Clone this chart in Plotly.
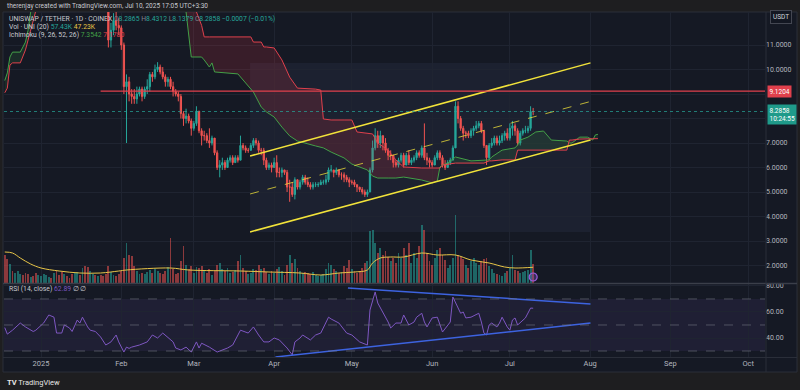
import plotly.graph_objects as go
import pandas as pd

# ---------------- DATA ----------------
first_open = 16.3
dec_close = [14.4, 13.3, 13.7, 13.2, 13.4, 13.9, 14.3, 14.0, 13.2, 13.1, 13.4, 13.0, 12.9, 13.3]
dec_high = [16.5, 14.6, 14.0, 13.9, 13.6, 14.1, 14.6, 14.5, 14.1, 13.5, 13.6, 13.5, 13.3, 13.5]
dec_low = [14.0, 12.9, 12.6, 13.0, 12.9, 13.3, 13.8, 13.8, 13.0, 12.8, 13.0, 12.9, 12.7, 12.8]

jan_close = [13.6, 14.0, 14.5, 14.7, 14.3, 14.9, 13.9, 13.5, 13.0, 13.4, 13.3, 13.1, 12.9, 13.5, 14.0, 13.8,
             14.6, 13.7, 13.0, 13.5, 13.6, 13.2, 13.4, 13.0, 12.8, 12.5, 11.2, 11.6, 12.0, 11.8, 11.7]
jan_high = [13.8, 14.2, 14.7, 14.9, 14.8, 15.2, 15.0, 14.0, 13.6, 13.6, 13.6, 13.4, 13.2, 13.7, 14.2, 14.2,
            14.9, 14.7, 13.9, 14.0, 13.9, 13.8, 13.6, 13.5, 13.2, 13.0, 12.6, 11.9, 12.3, 12.4, 12.1]
jan_low = [13.2, 13.5, 13.9, 14.3, 14.1, 14.2, 13.7, 13.2, 12.8, 12.9, 13.1, 12.9, 12.5, 12.8, 13.4, 13.6,
           13.7, 13.5, 12.6, 12.8, 13.3, 13.0, 13.0, 12.8, 12.6, 12.4, 10.9, 10.9, 11.4, 11.6, 11.4]

feb_close = [11.0, 9.3, 9.5, 9.0, 8.9, 8.8, 9.0, 9.2, 8.9, 9.2, 9.3, 9.8, 9.7, 10.0, 10.1, 9.9, 9.7, 9.5,
             9.6, 9.3, 9.1, 9.0, 8.9, 8.2, 8.0, 8.1, 7.9, 7.6]
feb_high = [11.8, 11.1, 9.8, 9.7, 9.2, 9.2, 9.3, 9.3, 9.3, 9.3, 9.6, 9.9, 9.9, 10.2, 10.3, 10.2, 10.1, 9.8,
            9.7, 9.7, 9.5, 9.2, 9.1, 9.0, 8.3, 8.4, 8.2, 8.0]
feb_low = [10.8, 9.0, 7.0, 8.7, 8.6, 8.6, 8.6, 8.9, 8.7, 8.8, 9.0, 9.1, 9.5, 9.6, 9.9, 9.8, 9.6, 9.3,
           9.3, 9.2, 8.9, 8.9, 8.7, 8.0, 7.7, 7.8, 7.8, 7.3]

mar_close = [7.8, 8.3, 7.5, 7.3, 7.3, 7.1, 7.0, 7.2, 6.6, 6.0, 6.1, 6.2, 6.0, 6.3, 6.4, 6.2, 6.4, 6.3,
             6.9, 6.8, 6.7, 6.7, 6.9, 7.1, 7.0, 6.7, 6.7, 6.3, 6.0, 6.1, 6.0]
mar_high = [7.9, 8.5, 8.3, 7.6, 7.5, 7.4, 7.6, 7.3, 7.2, 6.7, 6.3, 6.4, 6.3, 6.4, 6.5, 6.5, 6.5, 6.5,
            7.3, 7.0, 6.9, 6.8, 7.0, 7.2, 7.2, 7.1, 6.8, 6.8, 6.4, 6.2, 6.2]
mar_low = [7.5, 7.7, 7.4, 6.9, 7.1, 7.0, 6.8, 6.9, 6.5, 5.9, 5.6, 5.9, 5.9, 6.0, 6.2, 6.1, 6.2, 6.2,
           6.3, 6.7, 6.6, 6.6, 6.7, 6.8, 6.9, 6.6, 6.5, 6.1, 5.9, 5.9, 5.8]

apr_close = [6.2, 5.8, 5.8, 5.9, 5.8, 5.2, 5.2, 4.9, 5.5, 5.2, 5.4, 5.6, 5.4, 5.3, 5.2, 5.3, 5.3, 5.3,
             5.4, 5.4, 5.5, 5.9, 5.9, 5.8, 5.9, 5.7, 5.7, 5.6, 5.5, 5.4]
apr_high = [6.4, 6.5, 6.0, 6.0, 5.9, 5.9, 5.5, 5.4, 5.6, 5.5, 5.5, 5.7, 5.7, 5.6, 5.4, 5.4, 5.4, 5.4,
            5.5, 5.5, 5.7, 6.0, 6.1, 5.9, 6.0, 5.9, 5.8, 5.8, 5.7, 5.6]
apr_low = [6.0, 5.6, 5.6, 5.6, 5.7, 5.0, 4.6, 4.8, 4.7, 5.1, 5.1, 5.3, 5.3, 5.2, 5.1, 5.1, 5.2, 5.2,
           5.3, 5.3, 5.3, 5.4, 5.8, 5.6, 5.7, 5.6, 5.5, 5.4, 5.4, 5.2]

may_close = [5.4, 5.3, 5.2, 5.1, 5.0, 4.9, 5.0, 5.9, 6.8, 7.3, 7.0, 7.3, 7.0, 6.7, 6.5, 6.5, 6.2, 6.1,
             6.3, 6.5, 6.1, 6.5, 6.2, 6.3, 6.4, 6.6, 6.5, 6.8, 6.4, 6.3, 6.2]
may_high = [5.5, 5.5, 5.3, 5.2, 5.2, 5.1, 5.1, 6.0, 7.1, 7.6, 7.5, 7.5, 7.3, 7.2, 6.8, 6.7, 6.5, 6.3,
            6.4, 6.6, 6.6, 6.6, 6.7, 6.4, 6.5, 6.7, 6.7, 6.9, 7.8, 6.6, 6.4]
may_low = [5.3, 5.2, 5.0, 5.0, 4.9, 4.8, 4.8, 5.0, 5.8, 6.7, 6.8, 6.8, 6.7, 6.6, 6.3, 6.3, 6.0, 6.0,
           6.0, 6.2, 6.0, 6.1, 6.1, 6.1, 6.2, 6.3, 6.4, 6.4, 6.3, 6.1, 6.0]

jun_close = [6.1, 6.4, 6.6, 6.4, 6.1, 6.0, 6.2, 6.3, 6.8, 8.5, 8.0, 7.6, 7.4, 7.4, 7.3, 7.5, 7.6, 7.7,
             7.8, 7.5, 6.9, 6.4, 6.9, 7.0, 7.2, 7.0, 7.1, 7.3, 7.4, 7.2]
jun_high = [6.3, 6.5, 6.7, 6.7, 6.5, 6.3, 6.3, 6.4, 6.9, 8.7, 8.7, 8.1, 7.7, 7.5, 7.5, 7.6, 7.7, 7.9,
            7.9, 7.9, 7.5, 6.9, 7.0, 7.2, 7.3, 7.3, 7.3, 7.4, 7.5, 7.6]
jun_low = [6.0, 6.1, 6.3, 6.3, 6.0, 5.9, 6.0, 6.1, 6.3, 6.8, 7.8, 7.5, 7.1, 7.2, 7.2, 7.2, 7.3, 7.5,
           7.6, 7.4, 6.8, 6.1, 6.3, 6.8, 6.9, 6.9, 6.9, 7.0, 7.1, 7.1]

jul_close = [7.6, 7.7, 7.5, 7.0, 7.4, 7.5, 7.5, 7.6, 8.2865, 8.2858]
jul_high = [7.8, 7.9, 7.8, 7.6, 7.5, 7.6, 7.7, 7.7, 8.5, 8.4312]
jul_low = [7.1, 7.3, 7.3, 6.9, 6.9, 7.3, 7.4, 7.4, 7.5, 8.1379]

# volume in thousands (UNI)
dec_vol = [84, 72, 57, 36, 30, 36, 27, 24, 30, 27, 18, 21, 30, 24]
jan_vol = [21, 27, 24, 18, 15, 30, 36, 24, 33, 27, 21, 15, 27, 30, 33, 24, 45, 51, 48, 36, 27, 24, 21,
           24, 21, 27, 51, 33, 24, 21, 27]
feb_vol = [36, 75, 120, 84, 81, 51, 36, 27, 30, 27, 33, 39, 30, 42, 36, 30, 27, 36, 48, 135, 42, 27, 30,
           66, 111, 54, 42, 51]
mar_vol = [30, 48, 45, 51, 36, 30, 42, 24, 36, 54, 60, 42, 36, 45, 30, 33, 39, 66, 84, 45, 36, 27, 30,
           42, 39, 54, 42, 45, 33, 27, 36]
apr_vol = [30, 42, 48, 36, 24, 54, 84, 60, 72, 45, 36, 30, 33, 30, 27, 33, 24, 21, 24, 27, 42, 60, 54,
           42, 36, 30, 33, 51, 45, 69]
may_vol = [42, 36, 30, 36, 45, 60, 66, 156, 159, 120, 90, 105, 84, 96, 78, 66, 75, 60, 90, 75, 105, 84,
           120, 60, 90, 75, 111, 174, 159, 90, 66]
jun_vol = [54, 75, 99, 105, 84, 69, 45, 54, 75, 204, 84, 78, 72, 54, 45, 66, 75, 60, 54, 66, 72, 75, 51,
           42, 30, 27, 24, 21, 30, 36]
jul_vol = [45, 84, 39, 36, 30, 33, 36, 39, 99, 57]

# volume MA(20), read at day offsets from 2025-01-01
vma_days = [-14, -11, -8, -4, 0, 7, 15, 23, 30, 33, 50, 57, 77, 88, 100, 108, 115, 121, 126, 128, 131,
            135, 140, 147, 153, 160, 166, 173, 179, 183, 190]
vma_vals = [93, 90, 75, 57, 45, 36, 30, 30, 36, 39, 45, 39, 36, 33, 30, 24, 30, 33, 39, 60, 75,
            78, 78, 90, 84, 84, 69, 60, 48, 45, 47.23]

# Ichimoku leading spans (day offsets from 2025-01-01)
cloud_days = [-14, -13, -12, -11, -8, -6, -5, -4, -2, -1, 10, 30, 50, 56, 58, 60, 62, 63, 65, 66, 67, 76,
              78, 81, 82, 85, 86, 87, 90, 93, 96, 99, 106, 108, 109, 112, 117, 120, 122, 126, 128, 130,
              134, 137, 140, 147, 151, 153, 154, 155, 157, 160, 166, 171, 173, 174, 178, 183, 184, 185,
              188, 191, 194, 197, 203, 204, 205, 208, 211, 213, 214, 215]
span_a = [9.55, 9.86, 10.51, 10.71, 10.71, 11.12, 11.6, 12.35, 13.0, 13.5, 14.5, 15.0, 13.5, 12.35,
          10.51, 10.51, 10.51, 10.39, 10.1, 10.27, 9.9, 9.82, 9.57, 9.16, 9.08, 8.47, 8.35, 8.27, 8.06,
          7.65, 7.29, 7.08, 6.88, 6.84, 6.8, 6.63, 6.39, 6.14, 6.06, 5.9, 5.65, 5.57, 5.57, 5.57, 5.61,
          5.49, 5.37, 5.45, 6.02, 6.1, 6.18, 6.43, 6.27, 6.31, 6.31, 6.43, 6.71, 6.8, 6.92, 7.12, 7.24,
          7.45, 7.49, 7.12, 7.08, 7.0, 7.0, 7.24, 7.24, 7.12, 7.33, 7.3542]
span_b = [9.05, 9.24, 10.18, 10.27, 10.27, 10.8, 11.2, 11.6, 12.4, 13.0, 13.5, 15.5, 15.0, 13.5,
          12.9, 12.35, 11.8, 11.33, 11.33, 11.33, 11.33, 11.33, 11.33, 11.33, 11.12, 11.12, 10.92, 10.92,
          10.88, 10.39, 9.69, 9.24, 9.2, 9.16, 7.98, 7.94, 7.94, 7.94, 7.45, 7.41, 7.37, 7.0, 6.71, 6.31,
          6.02, 5.98, 5.98, 5.98, 5.98, 6.1, 6.14, 6.18, 6.18, 6.18, 6.27, 6.27, 6.31, 6.31, 6.71, 6.71,
          6.71, 6.71, 6.71, 6.71, 6.71, 7.12, 7.12, 7.16, 7.16, 7.16, 7.16, 7.178]

# RSI(14) read at day offsets from 2025-01-01
rsi_days = [-14, -13, -11, -8, -6, -4, -3, -2, 1, 3, 5, 6, 8, 9, 11, 12, 14, 15, 16, 18, 19, 21, 23, 25,
            27, 29, 30, 32, 33, 34, 35, 38, 41, 43, 45, 47, 49, 51, 52, 54, 56, 58, 60, 61, 62, 65, 68,
            70, 72, 74, 77, 80, 82, 84, 86, 88, 90, 92, 95, 97, 98, 100, 101, 104, 106, 108, 111, 112,
            115, 118, 120, 123, 126, 127, 129, 130, 132, 134, 135, 137, 139, 140, 142, 144, 145, 147,
            148, 149, 151, 153, 155, 157, 158, 159, 160, 162, 163, 164, 166, 169, 170, 171, 172, 173,
            174, 176, 177, 178, 180, 181, 182, 183, 184, 186, 187, 189, 190]
rsi_vals = [48, 43, 46, 51.5, 48.5, 46, 45, 46, 51.5, 57.7, 56, 43.8, 43.8, 50, 47.7, 45, 53.8, 51.5,
            56, 48.5, 46, 45, 40.8, 34.6, 37, 42.3, 37, 29.2, 33, 32, 33, 34.6, 37, 42.3, 40, 43.8, 40,
            37, 32.3, 30.8, 33, 29.2, 37, 32.3, 36, 33, 29.2, 30.8, 32.3, 34.6, 46, 43.8, 48.5, 42.3,
            37, 37, 40, 38.5, 32.3, 27, 37, 40, 42.3, 38.5, 42.3, 43.8, 56, 54.6, 51.5, 43.8, 42.3, 37,
            34.6, 61.5, 75.4, 66.9, 60, 52.3, 47.7, 51.5, 51.5, 57.7, 50, 52.3, 56, 59, 52.3, 48.5,
            55.4, 56, 44.6, 50, 52.3, 71.5, 66.9, 59, 60, 55.4, 56, 59, 52.3, 43.8, 42.3, 50, 51.5,
            48.5, 51.5, 56, 48.5, 46, 53.8, 55.4, 50, 53.8, 55.4, 63, 62.89]

# drawings (data units)
channel_dates = ["2025-03-22 17:00", "2025-08-01 03:00"]
channel_upper = [6.47, 10.27]
channel_lower = [3.37, 7.12]
rsi_upper_dates = ["2025-04-29 12:00", "2025-08-01 03:00"]
rsi_upper_vals = [78.5, 66.2]
rsi_lower_dates = ["2025-04-01 12:00", "2025-08-01 03:00"]
rsi_lower_vals = [25.4, 51.5]
hline_level = 9.1204
hline_start = "2025-01-24"
last_price = 8.2858

month_ticks = ["2025-01-01", "2025-02-01", "2025-03-01", "2025-04-01", "2025-05-01", "2025-06-01",
               "2025-07-01", "2025-08-01", "2025-09-01", "2025-10-01"]
month_labels = ["2025", "Feb", "Mar", "Apr", "May", "Jun", "Jul", "Aug", "Sep", "Oct"]
price_ticks = [2, 3, 4, 5, 6, 7, 8, 9, 10, 11]
rsi_ticks = [40, 60, 80]

# ---------------- BUILD ----------------
close = dec_close + jan_close + feb_close + mar_close + apr_close + may_close + jun_close + jul_close
high = dec_high + jan_high + feb_high + mar_high + apr_high + may_high + jun_high + jul_high
low = dec_low + jan_low + feb_low + mar_low + apr_low + may_low + jun_low + jul_low
vol = dec_vol + jan_vol + feb_vol + mar_vol + apr_vol + may_vol + jun_vol + jul_vol
assert len(close) == len(high) == len(low) == len(vol) == 205, (len(close), len(high), len(low), len(vol))
opn = [first_open] + close[:-1]
dates = pd.date_range("2024-12-18", periods=len(close), freq="D")
base = pd.Timestamp("2025-01-01")
to_dt = lambda days: [base + pd.Timedelta(days=d) for d in days]

UP, DN = "#26a69a", "#ef5350"
BG = "#151924"
FONT = "Roboto, Arial, sans-serif"
TXT = "#b2b5be"

W, H = 800, 390
ML, MR, MT, MB = 4, 35, 12, 33
PW, PH = W - ML - MR, H - MT - MB
def pxx(xp): return (xp - ML) / PW
def pyy(yp): return (H - MB - yp) / PH

fig = go.Figure()

# volume
vcol = ["rgba(38,166,154,0.55)" if c >= o else "rgba(239,83,80,0.55)" for o, c in zip(opn, close)]
fig.add_trace(go.Bar(x=dates, y=vol, marker=dict(color=vcol, line=dict(width=0)),
                     width=0.72 * 86400000, yaxis="y3", xaxis="x", hoverinfo="skip"))
fig.add_trace(go.Scatter(x=to_dt(vma_days), y=vma_vals, mode="lines", line=dict(color="#e8c547", width=1, shape="spline"),
                         yaxis="y3", xaxis="x", hoverinfo="skip"))

# ichimoku cloud
cdt = to_dt(cloud_days)
upper = [max(a, b) for a, b in zip(span_a, span_b)]
fig.add_trace(go.Scatter(x=cdt, y=span_a, mode="lines", line=dict(width=0), hoverinfo="skip"))
fig.add_trace(go.Scatter(x=cdt, y=upper, mode="lines", line=dict(width=0), fill="tonexty",
                         fillcolor="rgba(242,54,69,0.16)", hoverinfo="skip"))
fig.add_trace(go.Scatter(x=cdt, y=span_b, mode="lines", line=dict(width=0), hoverinfo="skip"))
fig.add_trace(go.Scatter(x=cdt, y=upper, mode="lines", line=dict(width=0), fill="tonexty",
                         fillcolor="rgba(67,160,71,0.15)", hoverinfo="skip"))
fig.add_trace(go.Scatter(x=cdt, y=span_a, mode="lines", line=dict(color="#43a047", width=1), hoverinfo="skip"))
fig.add_trace(go.Scatter(x=cdt, y=span_b, mode="lines", line=dict(color="#e0404c", width=1), hoverinfo="skip"))

# candles
fig.add_trace(go.Candlestick(x=dates, open=opn, high=high, low=low, close=close,
                             increasing=dict(line=dict(color=UP, width=1), fillcolor=UP),
                             decreasing=dict(line=dict(color=DN, width=1), fillcolor=DN),
                             whiskerwidth=0, hoverinfo="skip", xaxis="x", yaxis="y"))

# channel
fig.add_trace(go.Scatter(x=channel_dates, y=channel_upper, mode="lines", line=dict(color="#f2e33a", width=1.5), hoverinfo="skip"))
fig.add_trace(go.Scatter(x=channel_dates, y=channel_lower, mode="lines", line=dict(color="#f2e33a", width=1.5), hoverinfo="skip"))
fig.add_trace(go.Scatter(x=channel_dates, y=[(a + b) / 2 for a, b in zip(channel_upper, channel_lower)], mode="lines",
                         line=dict(color="rgba(242,227,58,0.75)", width=1, dash="dash"), hoverinfo="skip"))

# RSI
fig.add_trace(go.Scatter(x=to_dt(rsi_days), y=rsi_vals, mode="lines", line=dict(color="#7e57c2", width=1),
                         yaxis="y2", xaxis="x", hoverinfo="skip"))
fig.add_trace(go.Scatter(x=rsi_upper_dates, y=rsi_upper_vals, mode="lines", line=dict(color="#3d63e0", width=1.5),
                         yaxis="y2", xaxis="x", hoverinfo="skip"))
fig.add_trace(go.Scatter(x=rsi_lower_dates, y=rsi_lower_vals, mode="lines", line=dict(color="#3d63e0", width=1.5),
                         yaxis="y2", xaxis="x", hoverinfo="skip"))

# little icon
fig.add_trace(go.Scatter(x=[dates[-1]], y=[18], mode="markers", yaxis="y3", xaxis="x",
                         marker=dict(symbol="circle", size=8, color="rgba(126,87,194,0.35)",
                                     line=dict(color="#9c5de0", width=1.2)), hoverinfo="skip"))

x_left = base + pd.Timedelta(days=-14.29)
x_right = base + pd.Timedelta(days=279.5)
price_dom = [pyy(283), 1]
rsi_dom = [0, pyy(284)]
GRID = "#1f2431"

fig.update_layout(
    width=W, height=H, margin=dict(l=ML, r=MR, t=MT, b=MB),
    paper_bgcolor="#1e1e20", plot_bgcolor=BG, showlegend=False,
    font=dict(family=FONT, color=TXT, size=7),
    bargap=0,
    xaxis=dict(type="date", range=[x_left, x_right], anchor="y2", tickvals=month_ticks, ticktext=month_labels,
               showgrid=True, gridcolor=GRID, gridwidth=1, zeroline=False, showline=False, ticks="",
               tickfont=dict(size=7.5, color=TXT), rangeslider=dict(visible=False), fixedrange=True),
    yaxis=dict(domain=price_dom, range=[1.286, 12.347], side="right", anchor="x",
               tickvals=price_ticks,
               ticktext=[("" if v in (8, 9) else f"{v:.4f}") for v in price_ticks],
               showgrid=True, gridcolor=GRID, zeroline=False, ticks="", tickfont=dict(size=7, color=TXT)),
    yaxis3=dict(overlaying="y", range=[0, 813], visible=False, anchor="x"),
    yaxis2=dict(domain=rsi_dom, range=[25.4, 81.5], side="right", anchor="x",
                tickvals=rsi_ticks, ticktext=[f"{v:.2f}" for v in rsi_ticks],
                showgrid=True, gridcolor=GRID, zeroline=False, ticks="", tickfont=dict(size=7, color=TXT)),
)

shapes = [
    dict(type="rect", xref="paper", yref="paper", x0=pxx(3), x1=pxx(797), y0=pyy(372), y1=pyy(12),
         fillcolor=BG, line=dict(color="#2a2e39", width=1), layer="below"),
    dict(type="line", xref="paper", yref="paper", x0=pxx(3), x1=pxx(797), y0=pyy(283.5), y1=pyy(283.5),
         line=dict(color="#3b3f4a", width=1.5)),
    dict(type="line", xref="paper", yref="paper", x0=pxx(3), x1=pxx(797), y0=pyy(357.5), y1=pyy(357.5),
         line=dict(color="#2a2e39", width=1)),
    dict(type="line", xref="paper", yref="paper", x0=pxx(766), x1=pxx(766), y0=pyy(372), y1=pyy(12),
         line=dict(color="#2a2e39", width=1)),
    dict(type="rect", xref="x", yref="y", x0=channel_dates[0], x1=channel_dates[1],
         y0=channel_lower[0], y1=channel_upper[1], fillcolor="rgba(120,123,190,0.08)", line=dict(width=0), layer="below"),
    dict(type="line", xref="x", yref="y", x0=hline_start, x1=x_right, y0=hline_level, y1=hline_level,
         line=dict(color="#e0404c", width=1.2)),
    dict(type="line", xref="paper", yref="y", x0=0, x1=1, y0=last_price, y1=last_price,
         line=dict(color="rgba(38,166,154,0.7)", width=1, dash="dot")),
    dict(type="rect", xref="paper", yref="y2", x0=0, x1=1, y0=30, y1=70,
         fillcolor="rgba(126,87,194,0.10)", line=dict(width=0), layer="below"),
]
for lv in (70, 50, 30):
    shapes.append(dict(type="line", xref="paper", yref="y2", x0=0, x1=1, y0=lv, y1=lv,
                       line=dict(color="rgba(120,123,134,0.55)", width=1, dash="dash")))
fig.update_layout(shapes=shapes)

G = "#7f8390"
LEG = 6.8
ann = [
    dict(x=pxx(5), y=pyy(6), text="therenjay created with TradingView.com, Jul 10, 2025 17:05 UTC+3:30",
         font=dict(size=6.5, color="#c8cad0")),
    dict(x=pxx(7), y=pyy(19),
         text=("UNISWAP / TETHER · 1D · COINEX "
               f"<span style='color:{G}'>O</span><span style='color:{UP}'>8.2865</span> "
               f"<span style='color:{G}'>H</span><span style='color:{UP}'>8.4312</span> "
               f"<span style='color:{G}'>L</span><span style='color:{UP}'>8.1379</span> "
               f"<span style='color:{G}'>C</span><span style='color:{UP}'>8.2858</span> "
               f"<span style='color:{UP}'>−0.0007 (−0.01%)</span>"),
         font=dict(size=LEG, color="#c8cad0")),
    dict(x=pxx(7), y=pyy(27),
         text=f"Vol · UNI (20) <span style='color:{UP}'>57.43K</span> <span style='color:#e8c547'>47.23K</span>",
         font=dict(size=LEG, color="#c8cad0")),
    dict(x=pxx(7), y=pyy(35),
         text="Ichimoku (9, 26, 52, 26) <span style='color:#43a047'>7.3542</span> <span style='color:#e0404c'>7.1780</span>",
         font=dict(size=LEG, color="#c8cad0")),
    dict(x=pxx(7), y=pyy(289),
         text="RSI (14, close) <span style='color:#7e57c2'>62.89</span> ∅ ∅",
         font=dict(size=LEG, color="#c8cad0")),
    dict(x=pxx(5), y=pyy(382), text="<b>TV</b> TradingView", font=dict(size=7.5, color="#e6e6e6")),
]
for a in ann:
    a.update(xref="paper", yref="paper", xanchor="left", yanchor="middle", showarrow=False)
ann += [
    dict(xref="paper", yref="paper", x=pxx(781), y=pyy(17.5), text="USDT", showarrow=False,
         font=dict(size=6.5, color="#d1d4dc"), bgcolor="#131722", bordercolor="#434651", borderwidth=1, borderpad=2,
         xanchor="center", yanchor="middle"),
    dict(xref="paper", yref="y", x=pxx(767), y=hline_level, text="9.1204", showarrow=False,
         font=dict(size=6.5, color="#ffffff"), bgcolor="#e0404c", borderpad=1.5, xanchor="left", yanchor="middle"),
    dict(xref="paper", yref="y", x=pxx(767), y=last_price, yshift=-3, text="8.2858<br>10:24:55", showarrow=False,
         font=dict(size=6.5, color="#ffffff"), bgcolor="#1f9a8a", borderpad=1.5, xanchor="left", yanchor="middle",
         align="left"),
]
fig.update_layout(annotations=ann)

fig.write_html("out.html", config={"displayModeBar": False, "staticPlot": True},
               post_script="document.body.style.margin='0px';document.body.style.overflow='hidden';")
